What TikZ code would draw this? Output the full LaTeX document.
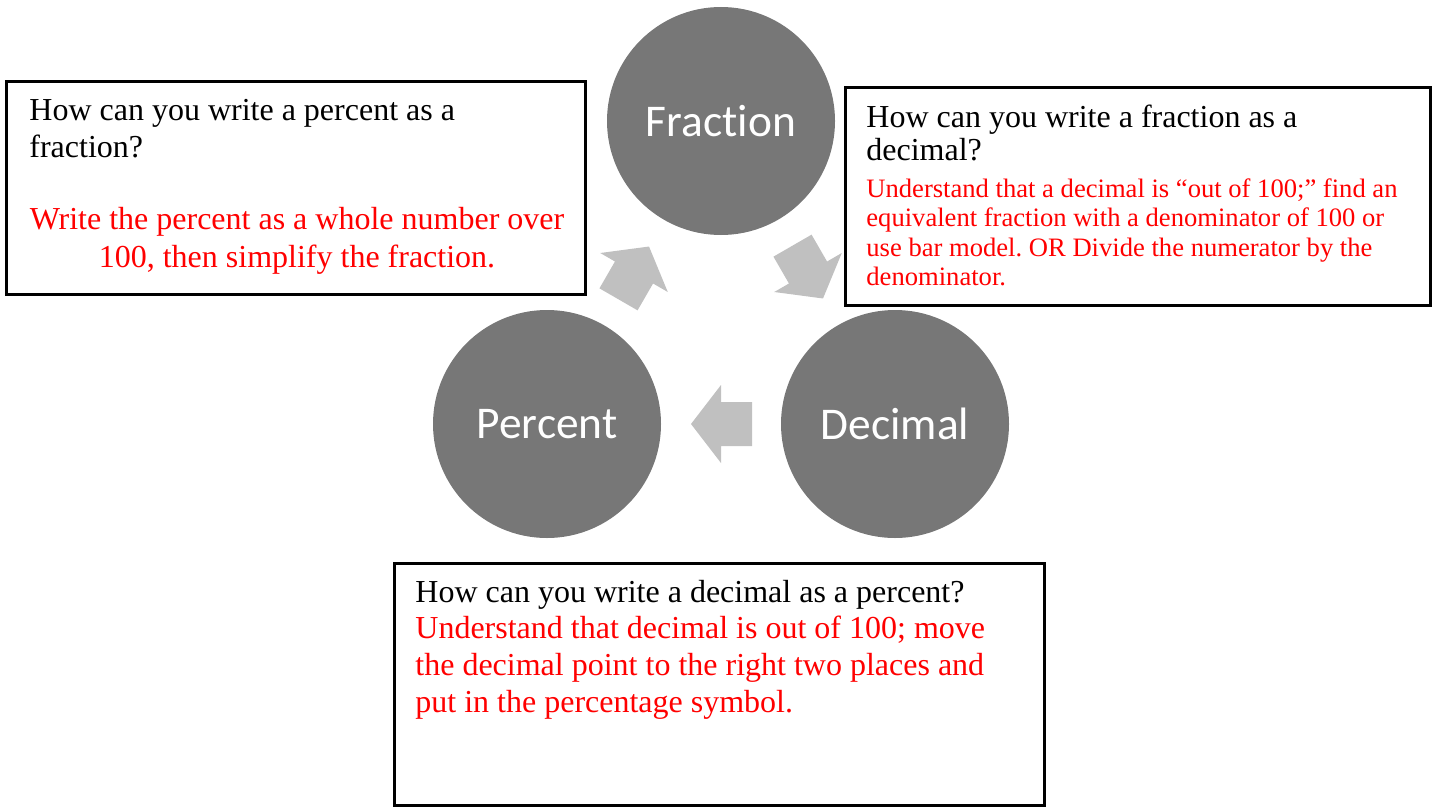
\documentclass[tikz,border=0pt]{standalone}
\usepackage{fontspec}
\setmainfont{Liberation Serif}
\newfontfamily\cyclefont[Ligatures=NoCommon]{Carlito}
\usepackage{xcolor}
\usepackage{tikz}
\usetikzlibrary{calc}
\definecolor{circlegray}{RGB}{119,119,119}
\definecolor{arrowgray}{RGB}{192,192,192}
\definecolor{answerred}{RGB}{255,0,0}
\frenchspacing

\begin{document}
\begin{tikzpicture}[
    x=0.5pt, y=-0.5pt,
    stage/.style={
      circle,
      minimum size=114pt,
      inner sep=0pt,
      fill=circlegray,
      text=white,
      font=\cyclefont\fontsize{22.7}{27}\selectfont
    },
    qbox/.style={rectangle, draw=black, line width=1.5pt, fill=white, inner sep=0pt},
    question/.style={anchor=north west, inner sep=0pt, align=left, text=black},
    answer/.style={inner sep=0pt, text=answerred},
    cycarrow/.style={fill=arrowgray}
  ]
    \useasboundingbox (0,0) rectangle (1438,808);

    % the three forms
    \node[stage] (fraction) at (721,121) {Fraction};
    \node[stage] (percent) at (547,424) {Percent};
    \node[stage] (decimal) at (895,424) {Decimal};

    % block arrows of the cycle
    \fill[cycarrow, shift={($(percent)!0.5!(fraction)$)}, rotate=60]
      (30,0) -- (0,39) -- (0,22) -- (-31,22) -- (-31,-22) -- (0,-22) -- (0,-39) -- cycle;
    \fill[cycarrow, shift={($(fraction)!0.5!(decimal)$)}, rotate=-60]
      (30,0) -- (0,39) -- (0,22) -- (-31,22) -- (-31,-22) -- (0,-22) -- (0,-39) -- cycle;
    \fill[cycarrow, shift={($(decimal)!0.5!(percent)$)}, rotate=180]
      (30,0) -- (0,39) -- (0,22) -- (-31,22) -- (-31,-22) -- (0,-22) -- (0,-39) -- cycle;

    % percent -> fraction
    \node[qbox, minimum width=289.75pt, minimum height=106.25pt] (pfbox) at (296,188) {};
    \node[question, font=\fontsize{16}{18.5}\selectfont] (pfq) at (29,94)
      {\strut How can you write a percent as a\\fraction?};
    \node[answer, anchor=north, align=center, font=\fontsize{16}{19}\selectfont] (pfa) at (297,202)
      {\strut Write the percent as a whole number over\\100, then simplify the fraction.};

    % fraction -> decimal
    \node[qbox, minimum width=292.5pt, minimum height=108.5pt] (fdbox) at (1137.5,196.5) {};
    \node[question, font=\fontsize{16}{16.5}\selectfont] (fdq) at (866,104)
      {\strut How can you write a fraction as a\\decimal?};
    \node[answer, anchor=north west, align=left, font=\fontsize{13.3}{14.7}\selectfont] (fda) at (866,176.5)
      {\strut Understand that a decimal is ``out of 100;'' find an\\
       equivalent fraction with a denominator of 100 or\\
       use bar model. OR Divide the numerator by the\\
       denominator.};

    % decimal -> percent
    \node[qbox, minimum width=325pt, minimum height=121pt] (dpbox) at (719,684) {};
    \node[question, font=\fontsize{16}{18.5}\selectfont] (dpq) at (415,576)
      {\strut How can you write a decimal as a percent?};
    \node[answer, anchor=north west, align=left, font=\fontsize{16}{18.5}\selectfont] (dpa) at (415,612)
      {\strut Understand that decimal is out of 100; move\\
       the decimal point to the right two places and\\
       put in the percentage symbol.};
\end{tikzpicture}
\end{document}
